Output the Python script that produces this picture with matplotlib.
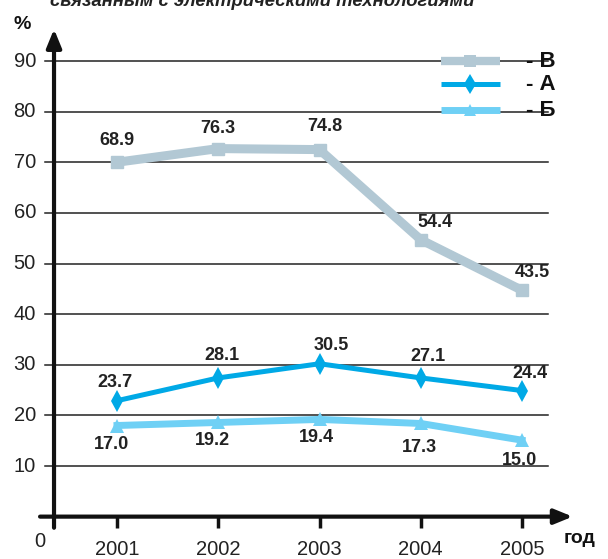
import matplotlib
matplotlib.use("Agg")
import matplotlib.pyplot as plt

# данные
years = [2001, 2002, 2003, 2004, 2005]
v_pos = [70.0, 72.7, 72.5, 54.7, 44.7]   # положение точек В на графике
a_pos = [22.9, 27.4, 30.2, 27.4, 24.9]   # положение точек А
b_pos = [18.0, 18.6, 19.2, 18.4, 15.1]   # положение точек Б
v_labels = ["68.9", "76.3", "74.8", "54.4", "43.5"]
a_labels = ["23.7", "28.1", "30.5", "27.1", "24.4"]
b_labels = ["17.0", "19.2", "19.4", "17.3", "15.0"]
y_ticks = [10, 20, 30, 40, 50, 60, 70, 80, 90]
legend_names = ["- В", "- А", "- Б"]

col_v = "#b2c8d4"
col_a = "#00a9e6"
col_b = "#6fd0f5"

font = ["Liberation Sans", "DejaVu Sans"]

fig = plt.figure(figsize=(6.08, 5.59), dpi=100)
ax = fig.add_axes([0, 0, 1, 1])
ax.set_xlim(2001 - 117 / 101.25, 2001 + 491 / 101.25)
ax.set_ylim(-8.37, 102.05)
ax.axis("off")

# сетка
for t in y_ticks:
    ax.plot([2000.289, 2005.257], [t, t], color="#222222", lw=1.1, zorder=1)
    ax.text(2000.2, t, str(t), ha="right", va="center", fontsize=14.5,
            family=font, color="#222222")

# оси со стрелками
ax.annotate("", xy=(2005.50, 0), xytext=(2000.24, 0),
            arrowprops=dict(arrowstyle="-|>,head_length=1.1,head_width=0.45",
                            lw=3, color="#111111", shrinkA=0, shrinkB=0))
ax.annotate("", xy=(2000.378, 96.3), xytext=(2000.378, -2.2),
            arrowprops=dict(arrowstyle="-|>,head_length=1.1,head_width=0.45",
                            lw=3, color="#111111", shrinkA=0, shrinkB=0))
for y in years:
    ax.plot([y, y], [0, -2.2], color="#111111", lw=2.5, solid_capstyle="butt")
    ax.text(y, -6.45, str(y), ha="center", va="center", fontsize=14.5,
            family=font, color="#222222")
ax.text(2000.24, -5.0, "0", ha="center", va="center", fontsize=14.5,
        family=font, color="#222222")
ax.text(2005.57, -4.3, "год", ha="center", va="center", fontsize=14,
        family=font, fontweight="bold", color="#111111")
ax.text(2000.06, 97.2, "%", ha="center", va="center", fontsize=14,
        family=font, fontweight="bold", color="#111111")
ax.text(2002.43, 100.8, "связанным с электрическими технологиями",
        ha="center", va="baseline", fontsize=13.3, family=font,
        fontweight="bold", style="italic", color="#222222")

# линии
ax.plot(years, v_pos, color=col_v, lw=6.5, marker="s", ms=9, zorder=3,
        solid_joinstyle="miter")
ax.plot(years, a_pos, color=col_a, lw=3.6, marker="d", ms=11, mew=0, zorder=4)
ax.plot(years, b_pos, color=col_b, lw=5, marker="^", ms=10, mew=0, zorder=3)

# подписи значений
v_off = [(0, 4.2), (0, 4.0), (0.05, 4.6), (0.14, 3.4), (0.1, 3.5)]
a_off = [(-0.02, 3.5), (0.04, 4.4), (0.12, 3.6), (0.07, 4.3), (0.08, 3.4)]
b_off = [(-0.05, -3.7), (-0.06, -3.6), (-0.03, -3.6), (-0.01, -4.8), (-0.02, -4.0)]
for lbls, pos, off in [(v_labels, v_pos, v_off), (a_labels, a_pos, a_off),
                       (b_labels, b_pos, b_off)]:
    for y, p, s, (dx, dy) in zip(years, pos, lbls, off):
        ax.text(y + dx, p + dy, s, ha="center", va="center", fontsize=13,
                family=font, fontweight="bold", color="#222222", zorder=5)

# легенда
leg_y = [90.0, 85.4, 80.3]
leg_style = [(col_v, 6, "s", 8), (col_a, 3.6, "d", 10), (col_b, 5, "^", 8)]
for name, ly, (c, lw, m, ms) in zip(legend_names, leg_y, leg_style):
    ax.plot([2004.2, 2004.78], [ly, ly], color=c, lw=lw, solid_capstyle="butt")
    ax.plot([2004.49], [ly], color=c, marker=m, ms=ms, mew=0)
    ax.text(2005.04, ly, name, ha="left", va="center", fontsize=16,
            family=font, fontweight="bold", color="#111111")

fig.savefig("out.png", dpi=100)
